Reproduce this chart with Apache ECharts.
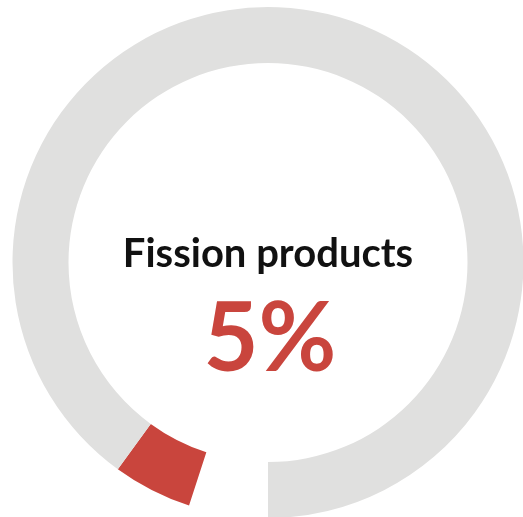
<!DOCTYPE html>
<html><head><meta charset="utf-8">
<script src="https://cdn.jsdelivr.net/npm/echarts@6/dist/echarts.min.js"></script>
<style>html,body{margin:0;padding:0;background:#fff}#c{width:523px;height:517px}</style>
</head><body><div id="c"></div>
<script>
var categories = ['gap', 'Fission products', 'Other'];
var values = [5, 5, 90];
var labelTitle = 'Fission products';
var labelValue = '5%';
var colors = ['rgba(0,0,0,0)', '#c9453d', '#e0e0df'];

var chart = echarts.init(document.getElementById('c'), null, {renderer: 'canvas'});
chart.setOption({
  animation: false,
  series: [{
    type: 'pie',
    center: [268, 262.5],
    radius: [199.5, 255.5],
    startAngle: 270,
    clockwise: true,
    silent: true,
    label: {show: false},
    labelLine: {show: false},
    data: categories.map(function (c, i) {
      return {name: c, value: values[i], itemStyle: {color: colors[i]}};
    })
  }],
  graphic: [
    {type: 'text', x: 268, y: 234, style: {text: labelTitle, font: 'bold 40px Lato', fill: '#111', textAlign: 'center', textVerticalAlign: 'top'}},
    {type: 'text', x: 270, y: 293, style: {text: labelValue, font: 'bold 95px Lato', fill: '#c9453d', textAlign: 'center', textVerticalAlign: 'top'}}
  ]
});
</script></body></html>
